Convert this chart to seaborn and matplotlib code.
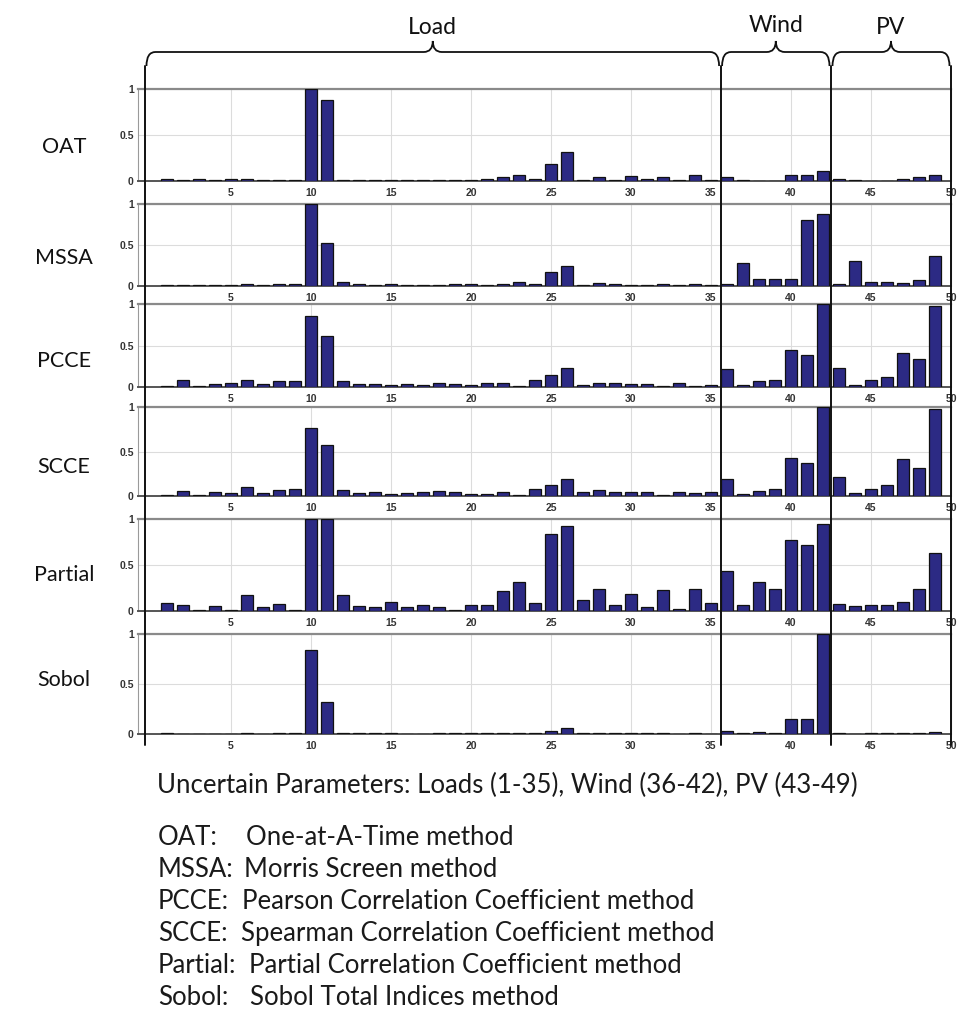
import numpy as np
import pandas as pd
import matplotlib
matplotlib.use("Agg")
import matplotlib.pyplot as plt
import seaborn as sns
from matplotlib.path import Path
from matplotlib.patches import PathPatch

# ---------------- data ----------------
params = list(range(1, 50))
methods = ["OAT", "MSSA", "PCCE", "SCCE", "Partial", "Sobol"]

oat = [0.02, 0.01, 0.02, 0.01, 0.02, 0.02, 0.01, 0.01, 0.01, 1.00,
       0.88, 0.01, 0.01, 0.01, 0.01, 0.01, 0.01, 0.01, 0.01, 0.01,
       0.02, 0.04, 0.06, 0.02, 0.19, 0.32, 0.01, 0.04, 0.01, 0.05,
       0.02, 0.04, 0.01, 0.06, 0.01, 0.04, 0.01, 0.00, 0.00, 0.06,
       0.06, 0.11, 0.02, 0.01, 0.00, 0.00, 0.02, 0.04, 0.07]
mssa = [0.01, 0.01, 0.01, 0.01, 0.01, 0.03, 0.01, 0.03, 0.03, 1.00,
        0.53, 0.05, 0.03, 0.01, 0.03, 0.01, 0.01, 0.01, 0.03, 0.03,
        0.01, 0.03, 0.05, 0.03, 0.17, 0.25, 0.01, 0.04, 0.03, 0.01,
        0.01, 0.03, 0.01, 0.03, 0.01, 0.03, 0.28, 0.09, 0.09, 0.09,
        0.81, 0.88, 0.03, 0.31, 0.05, 0.05, 0.04, 0.07, 0.36]
pcce = [0.01, 0.08, 0.01, 0.04, 0.05, 0.08, 0.04, 0.07, 0.07, 0.85,
        0.61, 0.07, 0.04, 0.04, 0.03, 0.04, 0.03, 0.05, 0.04, 0.03,
        0.05, 0.05, 0.01, 0.08, 0.14, 0.23, 0.03, 0.05, 0.05, 0.04,
        0.04, 0.01, 0.05, 0.01, 0.03, 0.22, 0.03, 0.07, 0.08, 0.45,
        0.38, 1.00, 0.23, 0.03, 0.08, 0.12, 0.41, 0.34, 0.97]
scce = [0.01, 0.06, 0.01, 0.05, 0.03, 0.10, 0.03, 0.07, 0.08, 0.76,
        0.57, 0.07, 0.03, 0.04, 0.02, 0.03, 0.05, 0.06, 0.04, 0.02,
        0.02, 0.05, 0.01, 0.08, 0.12, 0.19, 0.05, 0.07, 0.05, 0.05,
        0.04, 0.01, 0.04, 0.03, 0.05, 0.19, 0.02, 0.06, 0.08, 0.43,
        0.37, 1.00, 0.21, 0.03, 0.08, 0.12, 0.42, 0.32, 0.98]
partial = [0.09, 0.07, 0.01, 0.05, 0.01, 0.17, 0.04, 0.08, 0.01, 1.00,
           1.00, 0.17, 0.05, 0.04, 0.10, 0.04, 0.07, 0.04, 0.01, 0.06,
           0.07, 0.22, 0.32, 0.09, 0.84, 0.92, 0.12, 0.24, 0.07, 0.19,
           0.04, 0.23, 0.02, 0.24, 0.09, 0.44, 0.07, 0.31, 0.24, 0.77,
           0.72, 0.95, 0.08, 0.05, 0.07, 0.07, 0.10, 0.24, 0.63]
sobol = [0.01, 0.00, 0.00, 0.00, 0.00, 0.01, 0.00, 0.01, 0.01, 0.84,
         0.32, 0.01, 0.01, 0.01, 0.01, 0.00, 0.00, 0.01, 0.01, 0.01,
         0.01, 0.01, 0.01, 0.01, 0.03, 0.06, 0.01, 0.01, 0.01, 0.01,
         0.01, 0.01, 0.00, 0.01, 0.00, 0.03, 0.01, 0.02, 0.01, 0.15,
         0.15, 1.00, 0.01, 0.00, 0.01, 0.01, 0.01, 0.01, 0.02]
series = [oat, mssa, pcce, scce, partial, sobol]

group_names = ["Load", "Wind", "PV"]
group_bounds = [(-0.375, 35.6), (35.6, 42.5), (42.5, 50.0)]

xtick_vals = list(range(5, 51, 5))
xtick_labels = [str(v) for v in xtick_vals]
ytick_vals = [0, 0.5, 1]
ytick_labels = ["0", "0.5", "1"]

caption = "Uncertain Parameters: Loads (1-35), Wind (36-42), PV (43-49)"
legend_keys = ["OAT:", "MSSA:", "PCCE:", "SCCE:", "Partial:", "Sobol:"]
legend_desc = ["One-at-A-Time method", "Morris Screen method",
               "Pearson Correlation Coefficient method",
               "Spearman Correlation Coefficient method",
               "Partial Correlation Coefficient method",
               "Sobol Total Indices method"]

# ---------------- style ----------------
sns.set_theme(style="white")
plt.rcParams['font.family'] = ['Lato', 'DejaVu Sans']

W, H = 963, 1016
fig = plt.figure(figsize=(W / 100, H / 100), dpi=100)
fig.patch.set_facecolor("white")

bar_color = "#2c2a84"
panel_px = [(89, 181), (204, 286), (304, 387), (407, 496), (519, 611), (634, 734)]
label_y = [147, 258, 361, 467, 575, 680]
left_px, right_px = 138, 951
xlim = (-0.81, 50)

axes = []
for name, vals, (t, b), ly in zip(methods, series, panel_px, label_y):
    ax = fig.add_axes([left_px / W, 1 - b / H, (right_px - left_px) / W, (b - t) / H])
    df = pd.DataFrame({"param": params, "value": vals})
    sns.barplot(data=df, x="param", y="value", native_scale=True, width=0.8,
                color=bar_color, saturation=1, edgecolor="#111111",
                linewidth=0.9, ax=ax, errorbar=None, zorder=3)
    ax.set_xlim(xlim)
    ax.set_ylim(0, 1)
    ax.set_xlabel("")
    ax.set_ylabel("")
    ax.set_xticks(xtick_vals)
    ax.set_xticklabels(xtick_labels)
    ax.set_yticks(ytick_vals)
    ax.set_yticklabels(ytick_labels)
    ax.set_facecolor("white")
    ax.grid(True, color="#dcdcdc", lw=0.8, zorder=0)
    ax.set_axisbelow(True)
    for s in ["left", "right"]:
        ax.spines[s].set_color("#9a9a9a")
        ax.spines[s].set_linewidth(0.8)
    ax.spines["top"].set_color("#8a8a8a")
    ax.spines["top"].set_linewidth(1.6)
    ax.spines["bottom"].set_color("#555555")
    ax.spines["bottom"].set_linewidth(1.4)
    ax.tick_params(axis="both", direction="in", length=3, color="#888888",
                   labelsize=7.5, labelcolor="#333333", pad=3)
    ax.tick_params(axis="x", pad=5)
    for lab in ax.get_xticklabels() + ax.get_yticklabels():
        lab.set_family(["Liberation Sans", "DejaVu Sans"])
        lab.set_fontweight("bold")
    fig.text(64 / W, 1 - ly / H, name, ha="center", va="center",
             fontsize=15.5, color="#111111")
    axes.append(ax)

# ---------------- overlay: braces and separators ----------------
ov = fig.add_axes([0, 0, 1, 1], zorder=10)
ov.set_xlim(0, W)
ov.set_ylim(H, 0)
ov.axis("off")
ov.patch.set_alpha(0)

ref_ax = axes[0]


def xpx(xv):
    return ref_ax.transData.transform((xv, 0))[0]


y_base, y_tip, y_end, r = 52, 41, 66, 9
label_dy = [-13, -16, -13]
for gname, (g0, g1), dy in zip(group_names, group_bounds, label_dy):
    x0, x1 = xpx(g0) + 1.5, xpx(g1) - 1.5
    xm = (x0 + x1) / 2
    verts = [(x0, y_end), (x0, y_base), (x0 + r, y_base),
             (xm - r, y_base),
             (xm, y_base), (xm, y_tip),
             (xm, y_base), (xm + r, y_base),
             (x1 - r, y_base),
             (x1, y_base), (x1, y_end)]
    codes = [Path.MOVETO, Path.CURVE3, Path.CURVE3,
             Path.LINETO,
             Path.CURVE3, Path.CURVE3,
             Path.CURVE3, Path.CURVE3,
             Path.LINETO,
             Path.CURVE3, Path.CURVE3]
    ov.add_patch(PathPatch(Path(verts, codes), fill=False, lw=1.3, color="#111111"))
    ov.text(xm, y_tip + dy, gname, ha="center", va="center", fontsize=16.5,
            color="#111111")

sep_vals = [-0.375, 35.6, 42.5, 50.0]
for sv in sep_vals:
    xp = xpx(sv)
    ov.plot([xp, xp], [y_end, 745], color="#111111", lw=1.4)

# ---------------- captions ----------------
txt_size = 18.5
base_off = 9
ov.text(157, 784 + base_off, caption, ha="left", va="baseline",
        fontsize=txt_size, color="#1a1a1a")
desc_x = [246, 244, 242, 241, 249, 250]
for i, (k, d, dx) in enumerate(zip(legend_keys, legend_desc, desc_x)):
    yy = 836 + 32 * i + base_off
    ov.text(158, yy, k, ha="left", va="baseline", fontsize=txt_size,
            color="#1a1a1a")
    ov.text(dx, yy, d, ha="left", va="baseline", fontsize=txt_size,
            color="#1a1a1a")

fig.savefig("out.png", dpi=100, facecolor="white")
